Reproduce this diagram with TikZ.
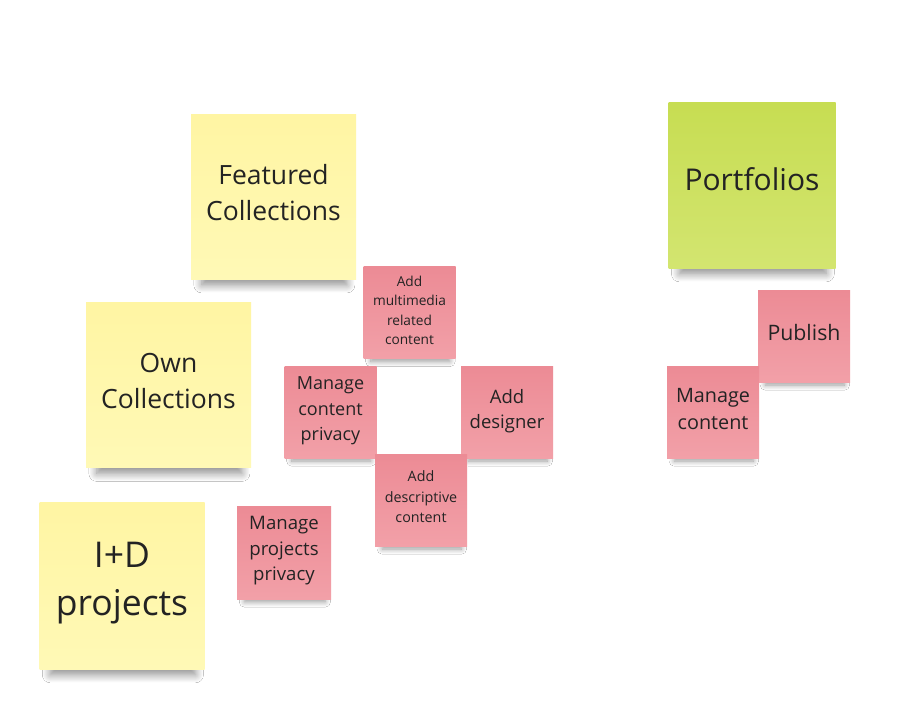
\documentclass[tikz,border=0pt]{standalone}
\usepackage{fontspec}
\setmainfont{Open Sans}
\usetikzlibrary{shadows.blur}

\definecolor{yellowtop}{RGB}{255,245,163}
\definecolor{yellowbot}{RGB}{255,249,182}
\definecolor{pinktop}{RGB}{236,139,149}
\definecolor{pinkbot}{RGB}{242,160,168}
\definecolor{greentop}{RGB}{199,221,82}
\definecolor{greenbot}{RGB}{211,229,112}
\definecolor{notetext}{RGB}{35,35,35}

\begin{document}
\begin{tikzpicture}[x=1pt,y=-1pt,
  note/.style={inner sep=0pt},
  notetext/.style={align=center,text=notetext,inner sep=0pt},
  yellownote/.style={note,top color=yellowtop,bottom color=yellowbot,minimum width=165pt,minimum height=165pt,
    blur shadow={shadow xshift=1pt,shadow yshift=-18pt,shadow scale=0.88,shadow opacity=45,shadow blur radius=9pt,shadow blur steps=12}},
  greennote/.style={yellownote,top color=greentop,bottom color=greenbot,minimum width=167pt,minimum height=166pt},
  pinknote/.style={note,top color=pinktop,bottom color=pinkbot,minimum width=92pt,minimum height=92pt,
    blur shadow={shadow xshift=1pt,shadow yshift=-11pt,shadow scale=0.86,shadow opacity=40,shadow blur radius=6pt,shadow blur steps=10}}]
\useasboundingbox[fill=white] (0,0) rectangle (917,707);
% big notes
\node[yellownote,label={[notetext,yshift=4pt,font=\fontsize{26.5}{36}\selectfont]center:Featured\\Collections}] (featured) at (273.5,196.5) {};
\node[yellownote,label={[notetext,yshift=4pt,font=\fontsize{26.5}{36}\selectfont]center:Own\\Collections}] (own) at (168.5,385) {};
\node[yellownote,minimum height=167pt,label={[notetext,yshift=2pt,font=\fontsize{35.5}{48}\selectfont]center:I+D\\projects}] (idprojects) at (122,585.5) {};
\node[greennote,label={[notetext,yshift=6pt,font=\fontsize{30}{36}\selectfont]center:Portfolios}] (portfolios) at (752,185) {};
% small notes
\node[pinknote,label={[notetext,yshift=2pt,font=\fontsize{13.7}{19.5}\selectfont]center:Add\\multimedia\\related\\content}] (multimedia) at (409.5,312.5) {};
\node[pinknote,label={[notetext,yshift=1pt,font=\fontsize{18}{25.5}\selectfont]center:Manage\\content\\privacy}] (contentprivacy) at (330.5,412) {};
\node[pinknote,label={[notetext,yshift=1pt,font=\fontsize{18.5}{25.5}\selectfont]center:Add\\designer}] (designer) at (507,412) {};
\node[pinknote,label={[notetext,yshift=3pt,font=\fontsize{14.3}{20.5}\selectfont]center:Add\\descriptive\\content}] (descriptive) at (421,500) {};
\node[pinknote,minimum width=94pt,minimum height=93pt,label={[notetext,yshift=1.5pt,font=\fontsize{18.6}{25.5}\selectfont]center:Manage\\projects\\privacy}] (projectsprivacy) at (284,552.5) {};
\node[pinknote,label={[notetext,yshift=3pt,font=\fontsize{21.3}{27}\selectfont]center:Publish}] (publish) at (804,336) {};
\node[pinknote,label={[notetext,yshift=3pt,font=\fontsize{19.8}{27}\selectfont]center:Manage\\content}] (managecontent) at (713,412) {};
\end{tikzpicture}
\end{document}
